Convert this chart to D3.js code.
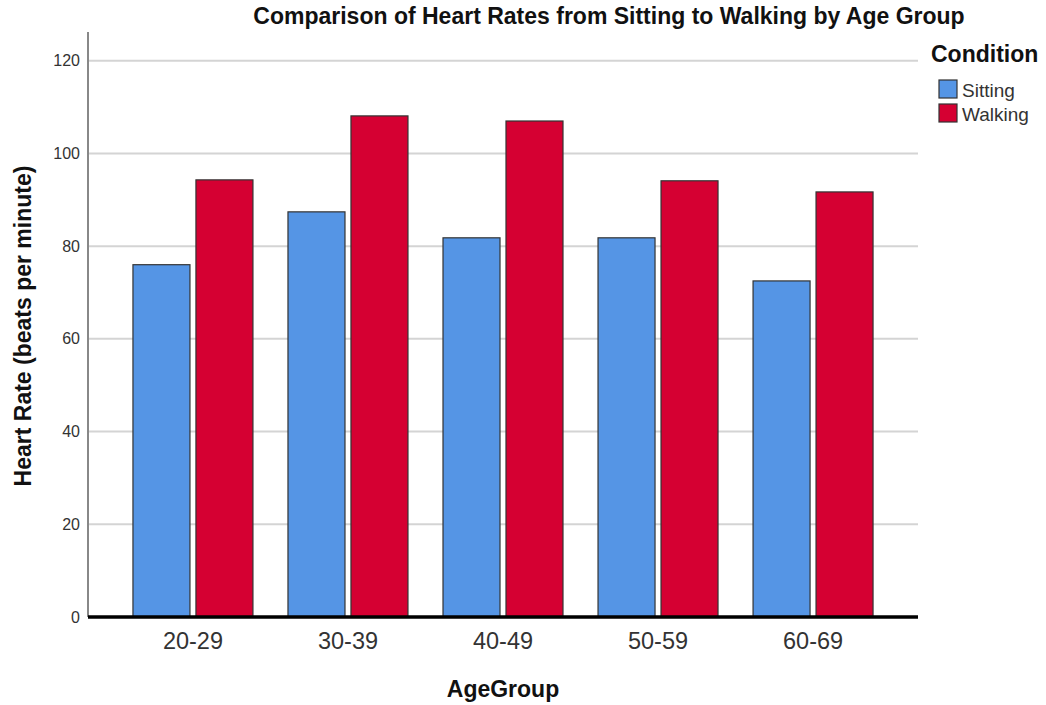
<!DOCTYPE html>
<html><head><meta charset="utf-8">
<script src="https://cdn.jsdelivr.net/npm/d3@7"></script>
<style>body{margin:0;background:#fff;font-family:"Liberation Sans",Arial,sans-serif}</style>
</head><body><svg id="c" width="1046" height="705"></svg>
<script>
const categories = ["20-29","30-39","40-49","50-59","60-69"];
const seriesNames = ["Sitting","Walking"];
const sitting = [76.0, 87.4, 81.8, 81.8, 72.5];
const walking = [94.3, 108.1, 107.0, 94.1, 91.7];
const yTicks = [0,20,40,60,80,100,120];
const colors = ["#5595E5","#D50032"];

const svg = d3.select("#c");
const L=88,R=918,T=32,B=617;
const y = d3.scaleLinear().domain([0,126.2]).range([B,T]);
const x = d3.scaleBand().domain(categories).range([L,R]).paddingInner(0.226).paddingOuter(0.29);
const xs = d3.scaleBand().domain(seriesNames).range([0,x.bandwidth()]).paddingInner(0.095);
const color = d3.scaleOrdinal().domain(seriesNames).range(colors);

// gridlines
svg.append("g").selectAll("line").data(yTicks.filter(d=>d>0)).join("line")
  .attr("x1",L).attr("x2",R).attr("y1",d=>y(d)).attr("y2",d=>y(d))
  .attr("stroke","#d4d4d4").attr("stroke-width",2);

// y axis
const ya = svg.append("g").attr("transform",`translate(${L},0)`)
  .call(d3.axisLeft(y).tickValues(yTicks).tickSize(0).tickPadding(8));
ya.select(".domain").attr("stroke","#888").attr("stroke-width",2).attr("d",`M0,${T}V${B}`);
ya.selectAll("text").attr("font-size",16).attr("fill","#333").attr("font-family","Liberation Sans, Arial");

// bars
const data = categories.map((c,i)=>({c, vals:[{s:"Sitting",v:sitting[i]},{s:"Walking",v:walking[i]}]}));
const g = svg.append("g").selectAll("g").data(data).join("g").attr("transform",d=>`translate(${x(d.c)},0)`);
g.selectAll("rect").data(d=>d.vals).join("rect")
  .attr("x",d=>xs(d.s)).attr("width",xs.bandwidth())
  .attr("y",d=>y(d.v)).attr("height",d=>y(0)-y(d.v))
  .attr("fill",d=>color(d.s)).attr("stroke","#333").attr("stroke-width",1.2);

// x axis
const xa = svg.append("g").attr("transform",`translate(0,${B})`)
  .call(d3.axisBottom(x).tickSize(0).tickPadding(15));
xa.select(".domain").attr("stroke","#000").attr("stroke-width",3.5).attr("d",`M${L},0H${R}`);
xa.selectAll("text").attr("font-size",23.5).attr("fill","#333").attr("font-family","Liberation Sans, Arial");

// title & labels
svg.append("text").attr("x",609).attr("y",24).attr("text-anchor","middle")
  .attr("font-size",23).attr("font-weight","bold").attr("fill","#111")
  .text("Comparison of Heart Rates from Sitting to Walking by Age Group");
svg.append("text").attr("transform","translate(31,326) rotate(-90)").attr("text-anchor","middle")
  .attr("font-size",23).attr("font-weight","bold").attr("fill","#111")
  .text("Heart Rate (beats per minute)");
svg.append("text").attr("x",503).attr("y",697).attr("text-anchor","middle")
  .attr("font-size",23).attr("font-weight","bold").attr("fill","#111").text("AgeGroup");

// legend
svg.append("text").attr("x",931).attr("y",62).attr("font-size",23).attr("font-weight","bold").attr("fill","#111").text("Condition");
const lg = svg.append("g").selectAll("g").data(seriesNames).join("g")
  .attr("transform",(d,i)=>`translate(939,${80+i*24})`);
lg.append("rect").attr("width",18).attr("height",18).attr("fill",d=>color(d)).attr("stroke","#333").attr("stroke-width",1.2);
lg.append("text").attr("x",23).attr("y",17).attr("font-size",19).attr("fill","#333").text(d=>d);
</script></body></html>
